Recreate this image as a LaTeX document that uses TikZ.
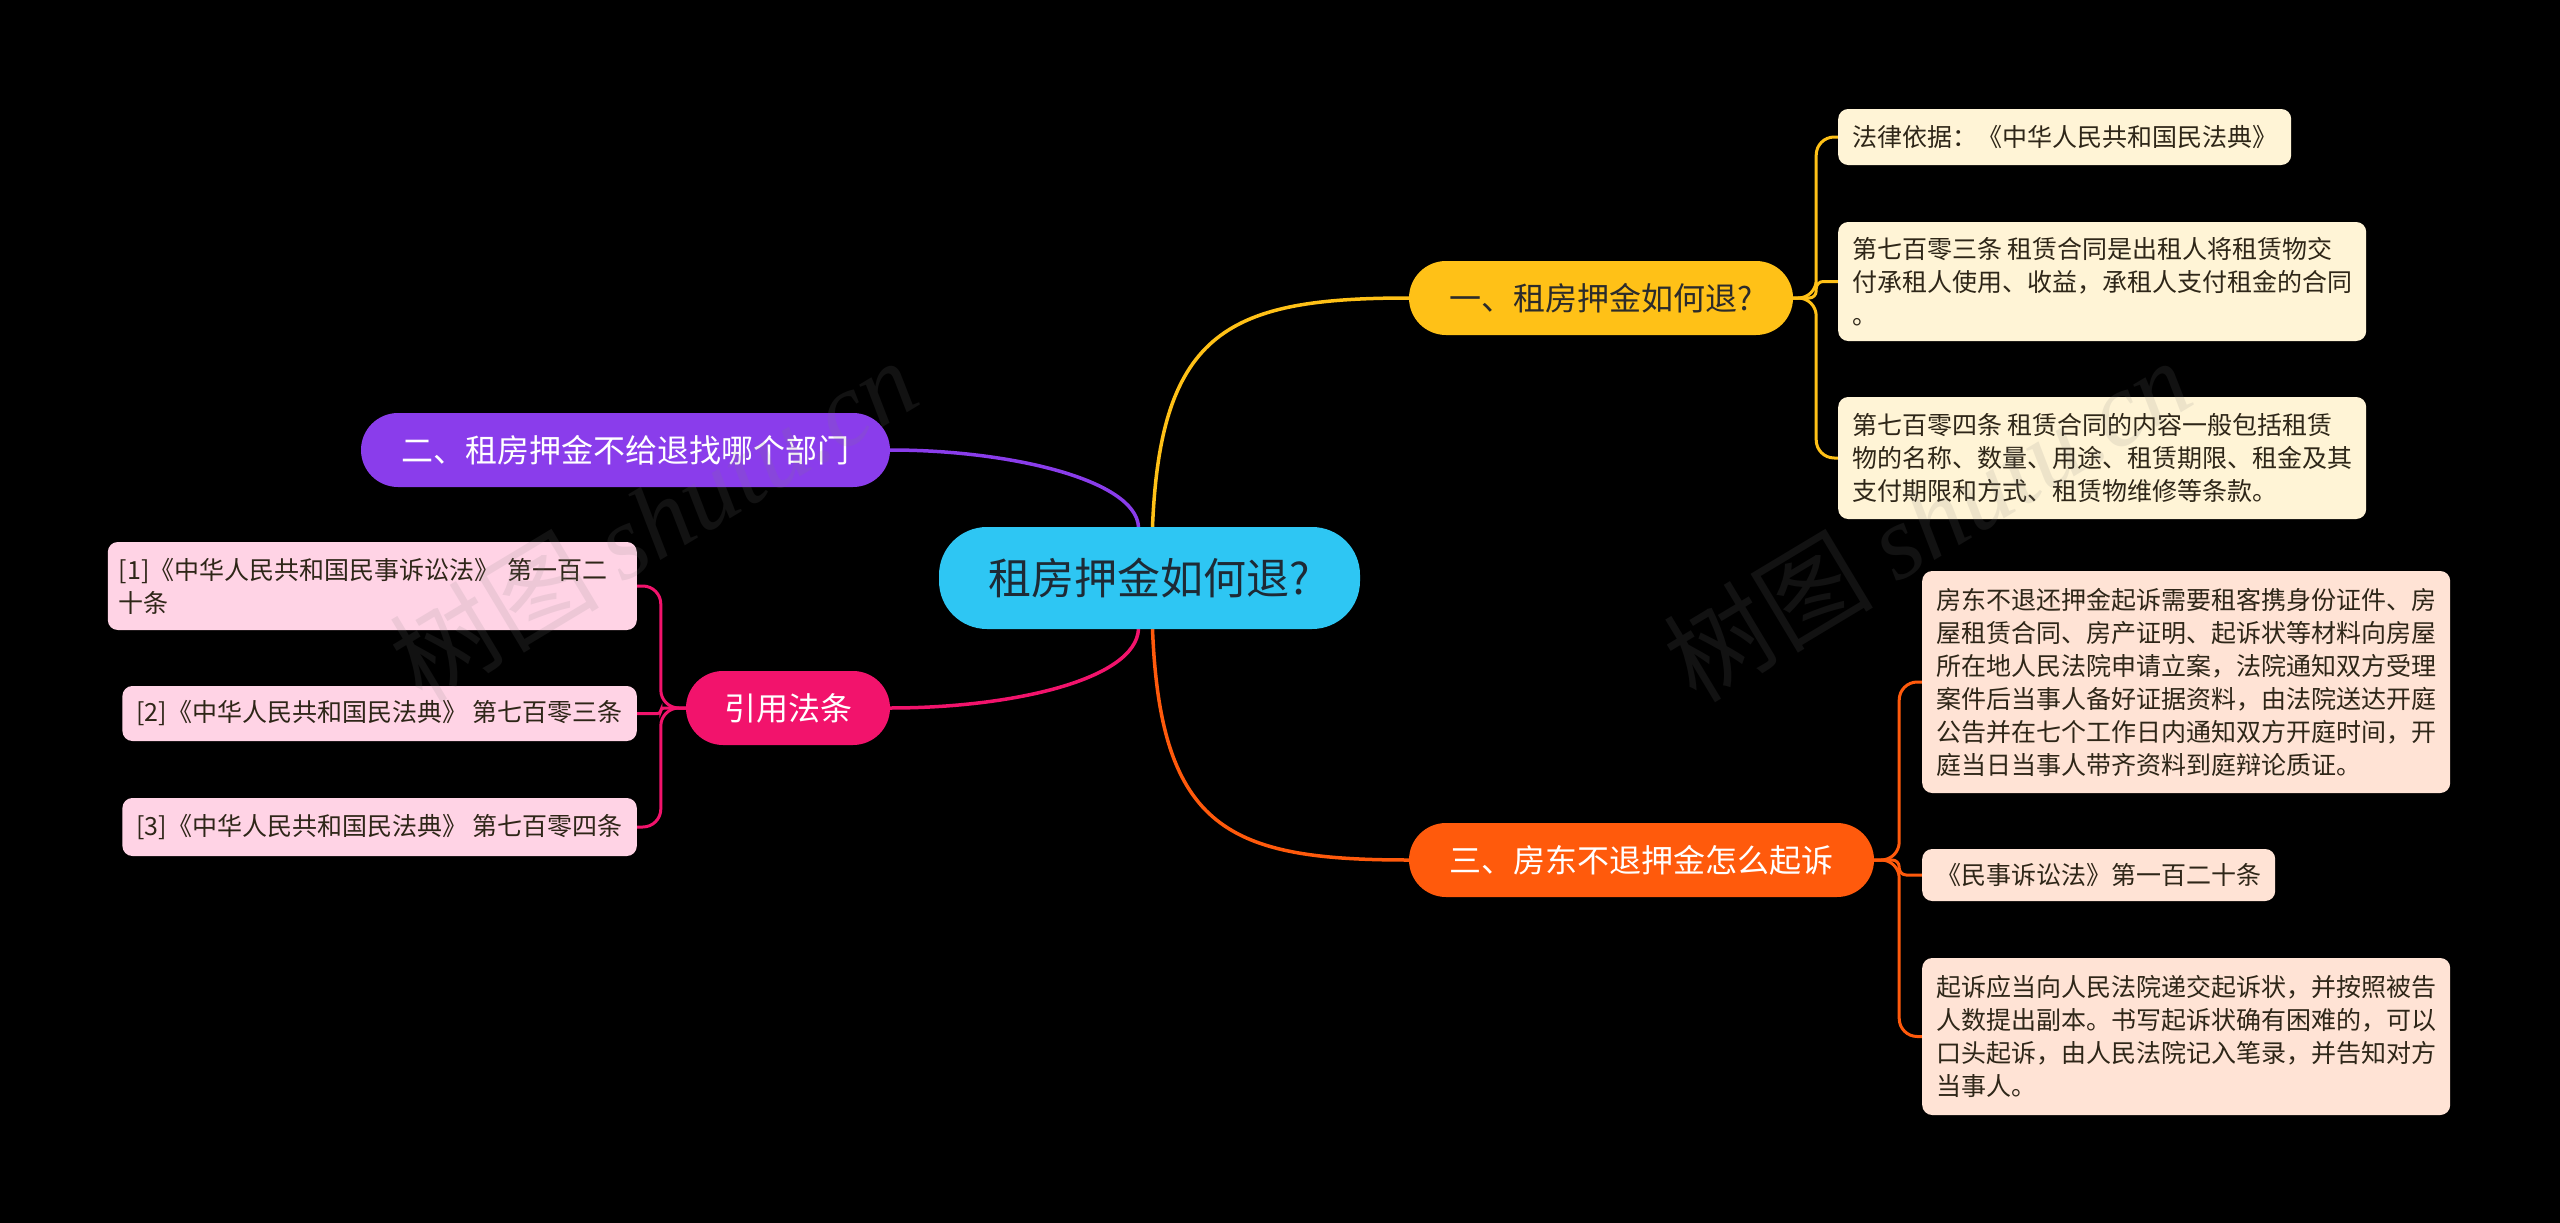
\documentclass[tikz,border=0pt]{standalone}
\usepackage{fontspec}
\setmainfont{Noto Sans CJK SC}
\newfontfamily\wmlatin{Liberation Serif}
\usetikzlibrary{backgrounds}
\definecolor{cyanc}{HTML}{2EC6F3}
\definecolor{yel}{HTML}{FFC117}
\definecolor{ora}{HTML}{FF5A0C}
\definecolor{pur}{HTML}{8A3DEB}
\definecolor{pnk}{HTML}{F2136C}
\definecolor{cream}{HTML}{FFF4D6}
\definecolor{peach}{HTML}{FFE3D5}
\definecolor{lpink}{HTML}{FFD3E5}
\definecolor{ctext}{HTML}{1E2A35}
\definecolor{dtext}{HTML}{2B2B2B}
\definecolor{ltext}{HTML}{2E2618}
\begin{document}
\begin{tikzpicture}[x=1pt,y=-1pt,
  mainnode/.style={rounded corners=37pt, minimum height=74pt, inner sep=0pt, font=\fontsize{32}{38}\selectfont},
  leaf/.style={rounded corners=10pt, inner xsep=14pt, inner ysep=0pt, font=\fontsize{25}{33}\selectfont, align=left, text=ltext},
  conn/.style={line width=3.5pt, line cap=round},
  bracel/.style={line width=3pt, rounded corners=18pt},
  watermark/.style={rotate=31, text=gray, text opacity=0.14, font=\fontsize{105}{110}\selectfont}
]
\useasboundingbox (0,0) rectangle (2560,1223);

% center and main nodes
\node[fill=cyanc, rounded corners=48pt, minimum width=421pt, minimum height=102pt, inner sep=0pt, font=\fontsize{43}{48}\selectfont, text=ctext] (c) at (1149.5,578) {租房押金如何退?};
\node[mainnode, fill=yel, text=dtext, minimum width=384pt] (n1) at (1601,298) {一、租房押金如何退?};
\node[mainnode, fill=ora, text=white, minimum width=465pt] (n3) at (1641.5,860) {三、房东不退押金怎么起诉};
\node[mainnode, fill=pur, text=white, minimum width=529pt] (n2) at (625.5,450) {二、租房押金不给退找哪个部门};
\node[mainnode, fill=pnk, text=white, minimum width=204pt] (n4) at (788,708) {引用法条};

% leaves of n1
\node[leaf, fill=cream, anchor=west, minimum height=56pt] (l1) at (1838,137) {法律依据：《中华人民共和国民法典》};
\node[leaf, fill=cream, anchor=west, minimum height=119pt] (l2) at (1838,281.5) {第七百零三条 租赁合同是出租人将租赁物交\\付承租人使用、收益，承租人支付租金的合同\\。};
\node[leaf, fill=cream, anchor=west, minimum height=122pt] (l3) at (1838,458) {第七百零四条 租赁合同的内容一般包括租赁\\物的名称、数量、用途、租赁期限、租金及其\\支付期限和方式、租赁物维修等条款。};

% leaves of n3
\node[leaf, fill=peach, anchor=west, minimum height=222pt] (m1) at (1922,682) {房东不退还押金起诉需要租客携身份证件、房\\屋租赁合同、房产证明、起诉状等材料向房屋\\所在地人民法院申请立案，法院通知双方受理\\案件后当事人备好证据资料，由法院送达开庭\\公告并在七个工作日内通知双方开庭时间，开\\庭当日当事人带齐资料到庭辩论质证。};
\node[leaf, fill=peach, anchor=west, minimum height=52pt] (m2) at (1922,875) {《民事诉讼法》第一百二十条};
\node[leaf, fill=peach, anchor=west, minimum height=157pt] (m3) at (1922,1036.5) {起诉应当向人民法院递交起诉状，并按照被告\\人数提出副本。书写起诉状确有困难的，可以\\口头起诉，由人民法院记入笔录，并告知对方\\当事人。};

% leaves of n4
\node[leaf, fill=lpink, anchor=east, minimum height=88pt, text width=507pt, inner xsep=11pt] (p1) at (637,586) {[1]《中华人民共和国民事诉讼法》 第一百二\\十条};
\node[leaf, fill=lpink, anchor=east, minimum height=55pt] (p2) at (637,713.5) {[2]《中华人民共和国民法典》 第七百零三条};
\node[leaf, fill=lpink, anchor=east, minimum height=58pt] (p3) at (637,827) {[3]《中华人民共和国民法典》 第七百零四条};

\begin{pgfonlayer}{background}
\fill[black] (0,0) rectangle (2560,1223);
% center connectors
\draw[conn, yel] ([xshift=3pt]c.north) .. controls +(8,-197) and +(-179,0) .. (n1.west);
\draw[conn, ora] ([xshift=3pt]c.south) .. controls +(8,201) and +(-179,0) .. (n3.west);
\draw[conn, pur] ([xshift=-11pt]c.north) .. controls +(-3,-47) and +(120,0) .. (n2.east);
\draw[conn, pnk] ([xshift=-11pt]c.south) .. controls +(-3,51) and +(120,0) .. (n4.east);
% braces
\draw[bracel, yel] (n1.east) -- ++(23,0) |- (l1.west);
\draw[bracel, yel, rounded corners=7pt] (n1.east) -- ++(23,0) |- (l2.west);
\draw[bracel, yel] (n1.east) -- ++(23,0) |- (l3.west);
\draw[bracel, ora] (n3.east) -- ++(25,0) |- (m1.west);
\draw[bracel, ora, rounded corners=7pt] (n3.east) -- ++(25,0) |- (m2.west);
\draw[bracel, ora] (n3.east) -- ++(25,0) |- (m3.west);
\draw[bracel, pnk] (n4.west) -- ++(-25,0) |- (p1.east);
\draw[bracel, pnk, rounded corners=3pt] (n4.west) -- ++(-25,0) |- (p2.east);
\draw[bracel, pnk] (n4.west) -- ++(-25,0) |- (p3.east);
\end{pgfonlayer}

% watermarks
\node[watermark] (wm1) at (653,519) {树图 {\wmlatin\itshape shutu.cn}};
\node[watermark] (wm2) at (1927,519) {树图 {\wmlatin\itshape shutu.cn}};
\end{tikzpicture}
\end{document}
